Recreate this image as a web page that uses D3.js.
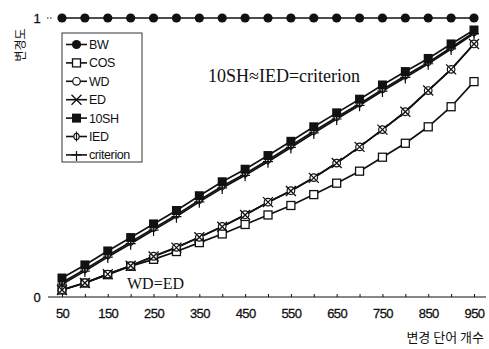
<!DOCTYPE html>
<html>
<head>
<meta charset="utf-8">
<script src="https://cdn.jsdelivr.net/npm/d3@7"></script>
<style>
  html, body { margin: 0; padding: 0; background: #fff; }
  svg { display: block; }
</style>
</head>
<body>
<svg id="chart" width="489" height="349"></svg>
<script>
// Number of changed words (x) and degree of change (y) for each measure
const counts = [50, 100, 150, 200, 250, 300, 350, 400, 450, 500, 550, 600, 650, 700, 750, 800, 850, 900, 950];
const tickLabels = [50, 150, 250, 350, 450, 550, 650, 750, 850, 950];

const bwValues   = [1, 1, 1, 1, 1, 1, 1, 1, 1, 1, 1, 1, 1, 1, 1, 1, 1, 1, 1];
const cosValues  = [0.025, 0.05, 0.08, 0.11, 0.135, 0.163, 0.195, 0.226, 0.26, 0.294, 0.328, 0.367, 0.408, 0.451, 0.501, 0.551, 0.61, 0.682, 0.772];
const wdValues   = [0.026, 0.051, 0.082, 0.112, 0.146, 0.178, 0.214, 0.253, 0.295, 0.34, 0.381, 0.428, 0.48, 0.538, 0.6, 0.664, 0.74, 0.816, 0.907];
const edValues   = [0.025, 0.05, 0.082, 0.112, 0.145, 0.177, 0.214, 0.252, 0.294, 0.34, 0.38, 0.427, 0.48, 0.538, 0.6, 0.664, 0.74, 0.816, 0.907];
const shValues   = [0.068, 0.115, 0.165, 0.213, 0.262, 0.31, 0.363, 0.413, 0.458, 0.507, 0.558, 0.61, 0.66, 0.709, 0.76, 0.808, 0.855, 0.907, 0.957];
const iedValues  = [0.052, 0.099, 0.149, 0.197, 0.246, 0.294, 0.347, 0.397, 0.442, 0.491, 0.542, 0.594, 0.644, 0.693, 0.744, 0.793, 0.841, 0.894, 0.948];
const critValues = [0.046, 0.093, 0.143, 0.191, 0.24, 0.288, 0.341, 0.391, 0.436, 0.485, 0.536, 0.588, 0.638, 0.687, 0.738, 0.787, 0.836, 0.889, 0.944];

const seriesNames = ["BW", "COS", "WD", "ED", "10SH", "IED", "criterion"];
const seriesValues = [bwValues, cosValues, wdValues, edValues, shValues, iedValues, critValues];

const svg = d3.select("#chart");
const x = d3.scaleLinear().domain([50, 950]).range([62, 474]);
const y = d3.scaleLinear().domain([0, 1]).range([297, 18]);

const ink = "#111";
const sans = "'Liberation Sans', Arial, sans-serif";

// Marker painters, keyed by series name
function drawMarker(g, name, cx, cy) {
  switch (name) {
    case "BW":
      g.append("circle").attr("cx", cx).attr("cy", cy).attr("r", 4.6).attr("fill", ink);
      break;
    case "COS":
      g.append("rect").attr("x", cx - 4).attr("y", cy - 4).attr("width", 8).attr("height", 8)
        .attr("fill", "#fff").attr("stroke", ink).attr("stroke-width", 1.3);
      break;
    case "WD":
      g.append("circle").attr("cx", cx).attr("cy", cy).attr("r", 3.8)
        .attr("fill", "#fff").attr("stroke", ink).attr("stroke-width", 1.2);
      break;
    case "ED":
      g.append("path").attr("d", `M${cx - 5},${cy - 5}L${cx + 5},${cy + 5}M${cx - 5},${cy + 5}L${cx + 5},${cy - 5}`)
        .attr("stroke", ink).attr("stroke-width", 1.3).attr("fill", "none");
      break;
    case "10SH":
      g.append("rect").attr("x", cx - 4.5).attr("y", cy - 4.5).attr("width", 9).attr("height", 9).attr("fill", ink);
      break;
    case "IED":
      g.append("ellipse").attr("cx", cx).attr("cy", cy).attr("rx", 2.6).attr("ry", 3.2)
        .attr("fill", "#fff").attr("stroke", ink).attr("stroke-width", 1.1);
      g.append("path").attr("d", `M${cx},${cy - 5}L${cx},${cy + 5}`).attr("stroke", ink).attr("stroke-width", 1.1);
      break;
    case "criterion":
      g.append("path").attr("d", `M${cx - 5},${cy}L${cx + 5},${cy}M${cx},${cy - 4}L${cx},${cy + 6}`)
        .attr("stroke", ink).attr("stroke-width", 1.2).attr("fill", "none");
      break;
  }
}

// X axis: baseline plus short ticks at every step
svg.append("line").attr("x1", 48).attr("x2", 486).attr("y1", y(0)).attr("y2", y(0))
  .attr("stroke", ink).attr("stroke-width", 1.1);
const xAxis = d3.axisBottom(x).tickValues(counts).tickSizeInner(-3).tickSizeOuter(0).tickPadding(12)
  .tickFormat(d => tickLabels.includes(d) ? String(d) : "");
const ax = svg.append("g").attr("transform", `translate(0,${y(0)})`).call(xAxis);
ax.select(".domain").remove();
ax.selectAll(".tick line").attr("stroke", ink);
ax.selectAll(".tick text").attr("fill", ink).attr("stroke", ink).attr("stroke-width", 0.3)
  .style("font-family", sans).style("font-size", "13px")
  .style("letter-spacing", "-0.6px");

// Y axis: end labels only
svg.append("line").attr("x1", 47).attr("x2", 53).attr("y1", y(1)).attr("y2", y(1))
  .attr("stroke", ink).attr("stroke-width", 1).attr("stroke-dasharray", "1.5,1.5");
[[0, y(0)], [1, y(1)]].forEach(([v, py]) => {
  svg.append("text").attr("x", 37).attr("y", py + 5).attr("text-anchor", "middle")
    .attr("fill", ink).attr("stroke", ink).attr("stroke-width", 0.3)
    .style("font-family", sans).style("font-size", "13px")
    .text(v);
});

// Axis titles
svg.append("text").attr("transform", "translate(25,45) rotate(-90)").attr("text-anchor", "middle")
  .attr("fill", ink).style("font-family", "'Noto Sans CJK KR', sans-serif").style("font-size", "12px")
  .text("변경도");
svg.append("text").attr("x", 484).attr("y", 342).attr("text-anchor", "end")
  .attr("fill", ink).style("font-family", "'Noto Sans CJK KR', sans-serif").style("font-size", "13px")
  .text("변경 단어 개수");

// Series lines
const line = d3.line().x((d, i) => x(counts[i])).y(d => y(d));
seriesValues.forEach((vals) => {
  svg.append("path").datum(vals).attr("d", line)
    .attr("fill", "none").attr("stroke", ink).attr("stroke-width", 1.7);
});

// Series markers, drawn so that the filled ones sit on top
const markerOrder = ["COS", "WD", "ED", "IED", "criterion", "10SH", "BW"];
markerOrder.forEach(name => {
  const vals = seriesValues[seriesNames.indexOf(name)];
  const g = svg.append("g");
  vals.forEach((v, i) => drawMarker(g, name, x(counts[i]), y(v)));
});

// Annotations
svg.append("text").attr("x", 208).attr("y", 82).attr("fill", ink)
  .style("font-family", "'Liberation Serif', 'Times New Roman', serif").style("font-size", "18px")
  .text("10SH≈IED=criterion");
svg.append("text").attr("x", 127).attr("y", 289).attr("fill", ink)
  .style("font-family", "'Liberation Serif', 'Times New Roman', serif").style("font-size", "16px")
  .text("WD=ED");

// Legend
const legend = svg.append("g");
legend.append("rect").attr("x", 62).attr("y", 33).attr("width", 80).attr("height", 129)
  .attr("fill", "#fff").attr("stroke", "#333").attr("stroke-width", 1);
seriesNames.forEach((name, i) => {
  const ly = 44.5 + i * 18.4;
  legend.append("line").attr("x1", 66).attr("x2", 87).attr("y1", ly).attr("y2", ly)
    .attr("stroke", ink).attr("stroke-width", 1.6);
  drawMarker(legend, name, 76.5, ly);
  legend.append("text").attr("x", 89).attr("y", ly + 4.5).attr("fill", ink)
    .style("font-family", sans).style("font-size", "12.5px")
    .style("letter-spacing", "-0.4px")
    .text(name);
});
</script>
</body>
</html>
